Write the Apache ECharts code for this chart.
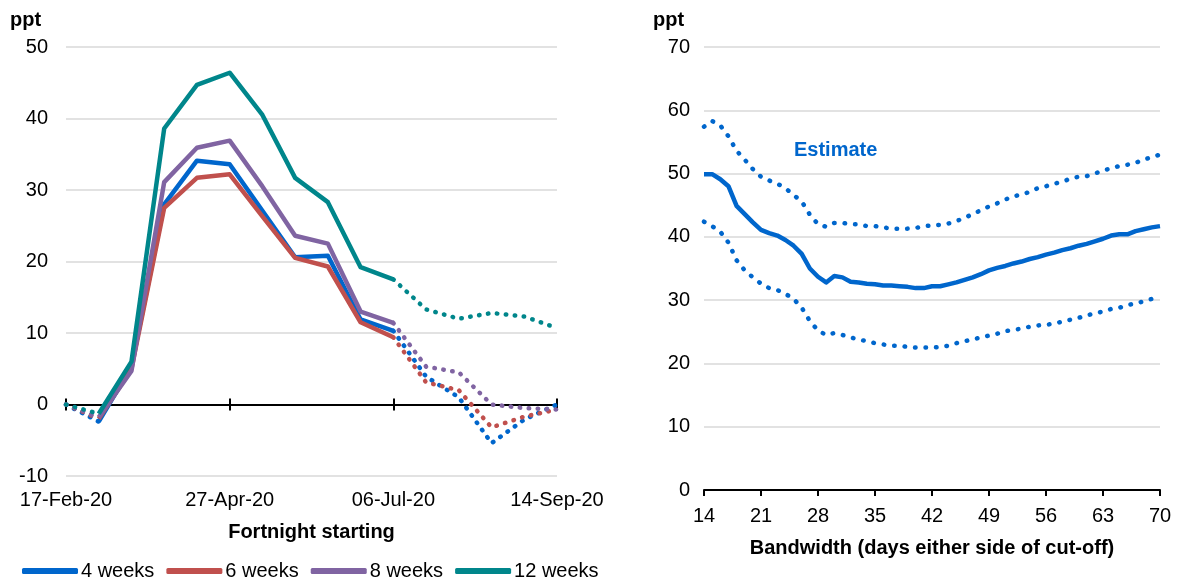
<!DOCTYPE html>
<html>
<head>
  <meta charset="utf-8">
  <title>ECharts</title>
  <script src="https://cdn.jsdelivr.net/npm/echarts@6/dist/echarts.min.js"></script>
  <style>
    html, body { margin: 0; padding: 0; background: #fff; }
  </style>
</head>
<body>
<div id="main" style="width: 1181px;height:579px;"></div>
<script type="text/javascript">

  // left panel: fortnights from 17-Feb-20 to 14-Sep-20
  var fortnights = ['17-Feb-20','02-Mar-20','16-Mar-20','30-Mar-20','13-Apr-20','27-Apr-20','11-May-20','25-May-20',
                    '08-Jun-20','22-Jun-20','06-Jul-20','20-Jul-20','03-Aug-20','17-Aug-20','31-Aug-20','14-Sep-20'];
  var weeks4  = [0, -2.4, 5.3, 28.0, 34.1, 33.6, 27.1, 20.6, 20.8, 11.9, 10.3, 3.9, 1.0, -5.4, -2.1, 0];
  var weeks6  = [0, -2.0, 5.0, 27.5, 31.7, 32.2, 26.3, 20.5, 19.3, 11.5, 9.4, 3.1, 2.0, -3.2, -1.7, -0.7];
  var weeks8  = [0, -1.8, 4.7, 31.1, 35.9, 36.9, 30.5, 23.6, 22.5, 13.0, 11.4, 5.3, 4.5, 0, -0.5, -0.7];
  var weeks12 = [0, -1.3, 6.0, 38.6, 44.7, 46.4, 40.5, 31.7, 28.3, 19.2, 17.5, 13.3, 12.0, 12.8, 12.3, 10.7];
  var solidFrom = 1, solidTo = 10;   // solid between these indices, dotted outside

  // right panel: bandwidth 14..70 days
  var bandwidth = [];
  for (var d = 14; d <= 70; d++) bandwidth.push(d);
  var estimate = [49.9,49.9,49.1,48.0,44.9,43.6,42.3,41.1,40.6,40.2,39.5,38.6,37.3,35.0,33.7,32.8,33.8,33.6,32.9,32.8,
                  32.6,32.5,32.3,32.3,32.2,32.1,31.9,31.9,32.2,32.2,32.5,32.8,33.2,33.6,34.1,34.7,35.1,35.4,35.8,36.1,
                  36.5,36.8,37.2,37.5,37.9,38.2,38.6,38.9,39.3,39.7,40.2,40.4,40.4,40.9,41.2,41.5,41.7];
  var upper = [57.4,58.3,57.6,55.9,53.6,52.2,50.7,49.5,48.9,48.4,47.7,46.6,45.6,43.5,42.0,41.6,42.2,42.2,42.0,42.0,
               41.7,41.7,41.5,41.3,41.3,41.3,41.4,41.7,41.8,41.9,42.1,42.5,43.0,43.6,44.2,44.8,45.3,45.9,46.4,46.7,
               47.1,47.7,48.0,48.4,48.7,49.2,49.5,49.6,50.0,50.5,50.8,51.2,51.4,51.7,52.2,52.6,53.0];
  var lower = [42.4,41.7,40.8,39.1,36.3,34.7,33.6,32.6,31.9,31.6,31.0,30.2,28.8,26.7,25.2,24.5,24.8,24.5,24.1,23.8,
               23.5,23.2,23.0,22.8,22.8,22.6,22.5,22.5,22.5,22.6,22.8,23.2,23.5,23.8,24.1,24.4,24.7,25.1,25.3,25.5,
               25.8,26.0,26.1,26.3,26.6,26.9,27.2,27.6,27.9,28.2,28.6,28.8,29.2,29.5,29.8,30.2,30.5];

  var leftLines = [
    { name: '4 weeks', color: '#0066CC', data: weeks4 },
    { name: '6 weeks', color: '#C0504D', data: weeks6 },
    { name: '8 weeks', color: '#8064A2', data: weeks8 },
    { name: '12 weeks', color: '#00868B', data: weeks12 }
  ];

  var FONT = 'Liberation Sans, Arial, sans-serif';
  var BLUE = '#0066CC';

  function solidPart(arr) {
    return arr.map(function (v, i) { return (i >= solidFrom && i <= solidTo) ? v : null; });
  }
  function dottedPart(arr) {
    return arr.map(function (v, i) { return (i <= solidFrom || i >= solidTo) ? v : null; });
  }
  function pairs(xs, ys) {
    return xs.map(function (x, i) { return [x, ys[i]]; });
  }

  var series = [];
  leftLines.forEach(function (l) {
    series.push({
      name: l.name, type: 'line', xAxisIndex: 0, yAxisIndex: 0,
      data: dottedPart(l.data), showSymbol: false, symbol: 'none', connectNulls: false,
      lineStyle: { color: l.color, width: 4.5, type: [0.5, 8.5], cap: 'round' },
      itemStyle: { color: l.color }
    });
  });
  leftLines.forEach(function (l) {
    series.push({
      name: l.name, type: 'line', xAxisIndex: 0, yAxisIndex: 0,
      data: solidPart(l.data), showSymbol: false, symbol: 'none', connectNulls: false,
      lineStyle: { color: l.color, width: 4.5, join: 'round' },
      itemStyle: { color: l.color }
    });
  });
  series.push({
    name: 'upper', type: 'line', xAxisIndex: 3, yAxisIndex: 1, data: pairs(bandwidth, upper),
    showSymbol: false, symbol: 'none',
    lineStyle: { color: BLUE, width: 4.5, type: [0.5, 10], cap: 'round' }
  });
  series.push({
    name: 'lower', type: 'line', xAxisIndex: 3, yAxisIndex: 1, data: pairs(bandwidth, lower),
    showSymbol: false, symbol: 'none',
    lineStyle: { color: BLUE, width: 4.5, type: [0.5, 10], cap: 'round' }
  });
  series.push({
    name: 'Estimate', type: 'line', xAxisIndex: 3, yAxisIndex: 1, data: pairs(bandwidth, estimate),
    showSymbol: false, symbol: 'none',
    lineStyle: { color: BLUE, width: 4.5, join: 'round' }
  });

  var myChart = echarts.init(document.getElementById('main'));

  var option = {
    animation: false,
    textStyle: { fontFamily: FONT },
    grid: [
      { left: 66, right: 624, top: 47, bottom: 103 },
      { left: 704, right: 21, top: 47, bottom: 89 }
    ],
    legend: {
      data: leftLines.map(function (l) { return l.name; }),
      left: 17, top: 556,
      icon: 'roundRect', itemWidth: 56, itemHeight: 6, itemGap: 12,
      textStyle: { fontSize: 20, color: '#000', fontFamily: FONT, padding: [0, 0, 0, -2] }
    },
    xAxis: [
      { // labels at the bottom of the left panel
        type: 'category', gridIndex: 0, data: fortnights, boundaryGap: false,
        axisLine: { show: false, onZero: false }, axisTick: { show: false },
        axisLabel: { interval: 4, fontSize: 20, color: '#000', margin: 14, showMaxLabel: true },
        name: 'Fortnight starting', nameLocation: 'middle', nameGap: 46,
        nameTextStyle: { fontSize: 20, fontWeight: 'bold', color: '#000' }
      },
      { // zero line with ticks going down
        type: 'category', gridIndex: 0, data: fortnights, boundaryGap: false, position: 'bottom',
        axisLine: { show: true, onZero: true, onZeroAxisIndex: 0, lineStyle: { color: '#000', width: 2 } },
        axisTick: { show: true, interval: 4, length: 6, lineStyle: { color: '#000', width: 2 } },
        axisLabel: { show: false }
      },
      { // ticks going up from zero line
        type: 'category', gridIndex: 0, data: fortnights, boundaryGap: false, position: 'bottom',
        axisLine: { show: true, onZero: true, onZeroAxisIndex: 0, lineStyle: { color: '#000', width: 2 } },
        axisTick: { show: true, inside: true, interval: 4, length: 6, lineStyle: { color: '#000', width: 2 } },
        axisLabel: { show: false }
      },
      {
        type: 'value', gridIndex: 1, min: 14, max: 70, interval: 7,
        axisLine: { show: true, lineStyle: { color: '#000', width: 2 } },
        axisTick: { show: true, length: 6, lineStyle: { color: '#000', width: 2 } },
        axisLabel: { fontSize: 20, color: '#000', margin: 16 },
        splitLine: { show: false },
        name: 'Bandwidth (days either side of cut-off)', nameLocation: 'middle', nameGap: 48,
        nameTextStyle: { fontSize: 20, fontWeight: 'bold', color: '#000' }
      }
    ],
    yAxis: [
      {
        type: 'value', gridIndex: 0, min: -10, max: 50, interval: 10,
        axisLine: { show: false }, axisTick: { show: false },
        axisLabel: { fontSize: 20, color: '#000', margin: 18 },
        splitLine: { lineStyle: { color: '#D9D9D9', width: 1.5 } }
      },
      {
        type: 'value', gridIndex: 1, min: 0, max: 70, interval: 10,
        axisLine: { show: false }, axisTick: { show: false },
        axisLabel: { fontSize: 20, color: '#000', margin: 14 },
        splitLine: { lineStyle: { color: '#D9D9D9', width: 1.5 } }
      }
    ],
    graphic: [
      { type: 'text', left: 10, top: 10, style: { text: 'ppt', font: 'bold 20px ' + FONT, fill: '#000' } },
      { type: 'text', left: 653, top: 10, style: { text: 'ppt', font: 'bold 20px ' + FONT, fill: '#000' } },
      { type: 'text', left: 794, top: 140, style: { text: 'Estimate', font: 'bold 20px ' + FONT, fill: BLUE } }
    ],
    series: series
  };

  myChart.setOption(option);

</script>
</body>
</html>
